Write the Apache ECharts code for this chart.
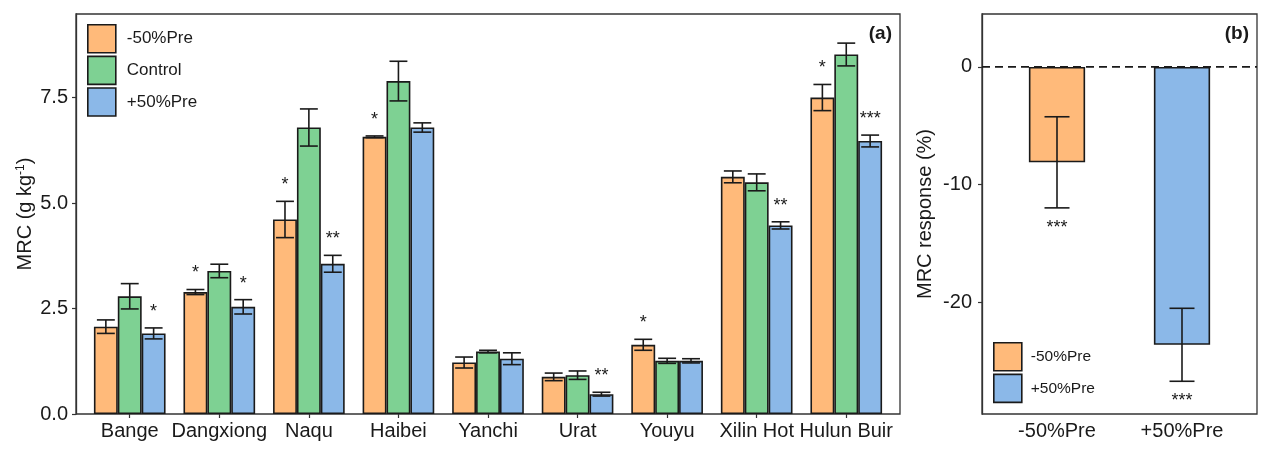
<!DOCTYPE html>
<html>
<head>
<meta charset="utf-8">
<script src="https://cdn.jsdelivr.net/npm/echarts@6/dist/echarts.min.js"></script>
<style>
html, body { margin: 0; padding: 0; background: #fff; }
#chart { width: 1272px; height: 450px; }
</style>
</head>
<body>
<div id="chart"></div>
<script>
// panel (a): MRC by site and treatment
const sites = ['Bange', 'Dangxiong', 'Naqu', 'Haibei', 'Yanchi', 'Urat', 'Youyu', 'Xilin Hot', 'Hulun Buir'];
const treatments = ['-50%Pre', 'Control', '+50%Pre'];
const dryMean = [2.07, 2.89, 4.61, 6.57, 1.22, 0.88, 1.64, 5.62, 7.50];
const dryErr = [0.16, 0.06, 0.43, 0.02, 0.13, 0.09, 0.13, 0.14, 0.31];
const dryStar = ['', '*', '*', '*', '', '', '*', '', '*'];
const ctrlMean = [2.79, 3.39, 6.79, 7.89, 1.48, 0.92, 1.26, 5.49, 8.52];
const ctrlErr = [0.30, 0.16, 0.44, 0.47, 0.03, 0.10, 0.06, 0.20, 0.27];
const ctrlStar = ['', '', '', '', '', '', '', '', ''];
const wetMean = [1.91, 2.54, 3.56, 6.79, 1.31, 0.47, 1.26, 4.47, 6.47];
const wetErr = [0.13, 0.17, 0.20, 0.11, 0.14, 0.045, 0.05, 0.085, 0.14];
const wetStar = ['*', '*', '**', '', '', '**', '', '**', '***'];
const yTicksA = [0, 2.5, 5, 7.5];

// panel (b): response (%)
const respCats = ['-50%Pre', '+50%Pre'];
const respMean = [-8.1, -23.6];
const respErr = [3.87, 3.1];
const respStar = ['***', '***'];
const yTicksB = [-20, -10, 0];

const colors = ['#FFBA7A', '#7ED193', '#8BB8E8'];
const FONT = '"Liberation Sans", Arial, sans-serif';
const INK = '#1a1a1a';

const means = [dryMean, ctrlMean, wetMean];
const errs = [dryErr, ctrlErr, wetErr];
const starsA = [dryStar, ctrlStar, wetStar];

let errDataA = [];
for (let t = 0; t < 3; t++) {
    for (let i = 0; i < sites.length; i++) {
        errDataA.push([i, means[t][i], errs[t][i], t]);
    }
}
let errDataB = respMean.map((m, i) => [i, m, respErr[i]]);

function capLines(x, yHi, yLo, cap) {
    const st = { stroke: INK, lineWidth: 1.6 };
    return [
        { type: 'line', shape: { x1: x, y1: yHi, x2: x, y2: yLo }, style: st },
        { type: 'line', shape: { x1: x - cap, y1: yHi, x2: x + cap, y2: yHi }, style: st },
        { type: 'line', shape: { x1: x - cap, y1: yLo, x2: x + cap, y2: yLo }, style: st }
    ];
}

function starText(x, y, txt) {
    return {
        type: 'text', x: x, y: y,
        style: { text: txt, align: 'center', verticalAlign: 'middle', fontSize: 18, fontFamily: FONT, fill: INK }
    };
}

function renderErrA(params, api) {
    const i = api.value(0), m = api.value(1), e = api.value(2), t = api.value(3);
    const band = api.size([1, 0])[0];
    const x = api.coord([i, m])[0] + (t - 1) * band * 0.8 / 3;
    const yHi = api.coord([i, m + e])[1];
    const yLo = api.coord([i, m - e])[1];
    let children = capLines(x, yHi, yLo, band * 0.1);
    const s = starsA[t][i];
    if (s) children.push(starText(x, yHi - 16, s));
    return { type: 'group', children: children };
}

function renderErrB(params, api) {
    const i = api.value(0), m = api.value(1), e = api.value(2);
    const band = api.size([1, 0])[0];
    const x = api.coord([i, m])[0];
    const yHi = api.coord([i, m + e])[1];
    const yLo = api.coord([i, m - e])[1];
    let children = capLines(x, yHi, yLo, band * 0.1);
    children.push(starText(x, yLo + 20, respStar[i]));
    return { type: 'group', children: children };
}

const chart = echarts.init(document.getElementById('chart'));

const axisText = { color: INK, fontSize: 20, fontFamily: FONT };
const tickStyle = { show: true, length: 4, inside: false, lineStyle: { color: '#333', width: 1.2 } };
const barBorder = { borderColor: INK, borderWidth: 1.6 };

let option = {
    animation: false,
    textStyle: { fontFamily: FONT },
    title: [
        { text: '(a)', right: 380, top: 24, padding: 0, textStyle: { fontSize: 19, fontWeight: 'bold', color: INK, fontFamily: FONT } },
        { text: '(b)', right: 23, top: 24, padding: 0, textStyle: { fontSize: 19, fontWeight: 'bold', color: INK, fontFamily: FONT } }
    ],
    legend: [
        {
            data: treatments, orient: 'vertical', left: 87, top: 24, padding: 0,
            itemWidth: 28, itemHeight: 28, itemGap: 2, icon: 'rect', selectedMode: false,
            itemStyle: barBorder,
            textStyle: { fontSize: 17, color: INK, fontFamily: FONT, padding: [0, 0, 0, 6] }
        },
        {
            data: respCats, orient: 'vertical', left: 993, top: 342, padding: 0,
            itemWidth: 28, itemHeight: 28, itemGap: 2, icon: 'rect', selectedMode: false,
            itemStyle: barBorder,
            textStyle: { fontSize: 15.5, color: INK, fontFamily: FONT, padding: [0, 0, 0, 4] }
        }
    ],
    grid: [
        // frame of (a)
        { left: 76, top: 14, width: 824, height: 400, show: true, borderColor: '#333', borderWidth: 1.3, backgroundColor: 'transparent' },
        // data area of (a), inset by ggplot's discrete expansion
        { left: 76 + 824 * 0.1 / 9.2, top: 14, width: 824 * 9 / 9.2, height: 400 },
        // frame of (b)
        { left: 982, top: 14, width: 275, height: 400, show: true, borderColor: '#333', borderWidth: 1.3, backgroundColor: 'transparent' },
        // data area of (b)
        { left: 982 + 275 * 0.1 / 2.2, top: 14, width: 275 * 2 / 2.2, height: 400 }
    ],
    xAxis: [
        { type: 'value', gridIndex: 0, min: 0, max: 1, show: false },
        {
            type: 'category', gridIndex: 1, data: sites,
            axisLine: { show: false },
            axisTick: Object.assign({ alignWithLabel: true }, tickStyle),
            axisLabel: Object.assign({ margin: 7, interval: 0 }, axisText)
        },
        { type: 'value', gridIndex: 2, min: 0, max: 1, show: false },
        {
            type: 'category', gridIndex: 3, data: respCats,
            axisLine: { show: false },
            axisTick: Object.assign({ alignWithLabel: true }, tickStyle),
            axisLabel: Object.assign({ margin: 7, interval: 0 }, axisText)
        }
    ],
    yAxis: [
        {
            type: 'value', gridIndex: 0, min: 0, max: 9.48,
            name: 'MRC (g kg{sup|-1})', nameLocation: 'middle', nameGap: 41, nameMoveOverlap: false,
            nameTextStyle: {
                fontSize: 20, color: INK, fontFamily: FONT,
                rich: { sup: { fontSize: 12, verticalAlign: 'top', color: INK, fontFamily: FONT } }
            },
            splitLine: { show: false },
            axisLine: { show: true, lineStyle: { color: '#333', width: 1.3 } },
            axisTick: Object.assign({ customValues: yTicksA }, tickStyle),
            axisLabel: Object.assign({ customValues: yTicksA, margin: 8, formatter: v => v.toFixed(1) }, axisText)
        },
        { type: 'value', gridIndex: 1, min: 0, max: 9.48, show: false },
        {
            type: 'value', gridIndex: 2, min: -29.48, max: 4.5,
            name: 'MRC response (%)', nameLocation: 'middle', nameGap: 47, nameMoveOverlap: false,
            nameTextStyle: { fontSize: 20, color: INK, fontFamily: FONT },
            splitLine: { show: false },
            axisLine: { show: true, lineStyle: { color: '#333', width: 1.3 } },
            axisTick: Object.assign({ customValues: yTicksB }, tickStyle),
            axisLabel: Object.assign({ customValues: yTicksB, margin: 10, formatter: v => String(v) }, axisText)
        },
        { type: 'value', gridIndex: 3, min: -29.48, max: 4.5, show: false }
    ],
    series: [
        { name: treatments[0], type: 'bar', xAxisIndex: 1, yAxisIndex: 1, data: dryMean, barWidth: '26.67%', barGap: '0%', itemStyle: Object.assign({ color: colors[0] }, barBorder) },
        { name: treatments[1], type: 'bar', xAxisIndex: 1, yAxisIndex: 1, data: ctrlMean, barWidth: '26.67%', barGap: '0%', itemStyle: Object.assign({ color: colors[1] }, barBorder) },
        { name: treatments[2], type: 'bar', xAxisIndex: 1, yAxisIndex: 1, data: wetMean, barWidth: '26.67%', barGap: '0%', itemStyle: Object.assign({ color: colors[2] }, barBorder) },
        {
            type: 'custom', xAxisIndex: 1, yAxisIndex: 1, data: errDataA, z: 5,
            encode: { x: 0, y: 1 }, renderItem: renderErrA, silent: true
        },
        { name: respCats[0], type: 'bar', xAxisIndex: 3, yAxisIndex: 3, data: [respMean[0], '-'], barWidth: '45%', barGap: '-100%', itemStyle: Object.assign({ color: colors[0] }, barBorder) },
        { name: respCats[1], type: 'bar', xAxisIndex: 3, yAxisIndex: 3, data: ['-', respMean[1]], barWidth: '45%', barGap: '-100%', itemStyle: Object.assign({ color: colors[2] }, barBorder) },
        {
            type: 'custom', xAxisIndex: 3, yAxisIndex: 3, data: errDataB, z: 5,
            encode: { x: 0, y: 1 }, renderItem: renderErrB, silent: true
        },
        {
            type: 'line', xAxisIndex: 2, yAxisIndex: 2, data: [[0, 0], [1, 0]], z: 6,
            symbol: 'none', silent: true,
            lineStyle: { color: INK, width: 1.8, type: [8, 5] }
        }
    ]
};

chart.setOption(option);
</script>
</body>
</html>
